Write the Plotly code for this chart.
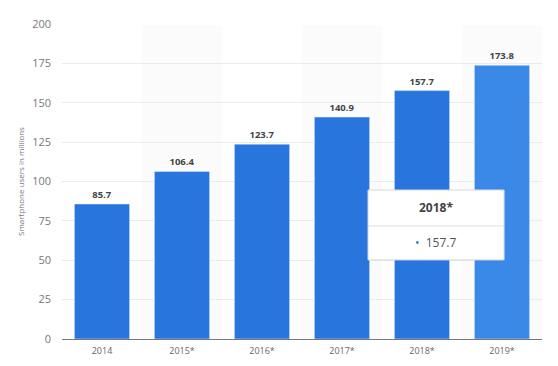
import plotly.graph_objects as go

years = ["2014", "2015*", "2016*", "2017*", "2018*", "2019*"]
users = [85.7, 106.4, 123.7, 140.9, 157.7, 173.8]
bar_colors = ["#2876dd", "#2876dd", "#2876dd", "#2876dd", "#2876dd", "#3a89e9"]
y_ticks = [0, 25, 50, 75, 100, 125, 150, 175, 200]
tooltip_title = "2018*"
tooltip_value = 157.7

fig = go.Figure()
fig.add_trace(go.Bar(
    x=years, y=users, marker_color=bar_colors, width=0.69,
    text=[f"{v:.1f}" for v in users], textposition="outside",
    textfont=dict(family="Open Sans", size=9.5, color="#444"),
    texttemplate="<b>%{text}</b>", cliponaxis=False,
))

shapes = []
for i in (1, 3, 5):
    shapes.append(dict(type="rect", xref="x", yref="paper", x0=i - 0.5, x1=i + 0.5,
                       y0=0, y1=0.995, fillcolor="#fbfbfb", line_width=0, layer="below"))
# tooltip box
shapes.append(dict(type="rect", xref="paper", yref="paper", x0=0.6375, x1=0.921,
                   y0=0.251, y1=0.473, fillcolor="white", line=dict(color="#d8d8d8", width=1),
                   layer="above"))
shapes.append(dict(type="line", xref="paper", yref="paper", x0=0.6375, x1=0.921,
                   y0=0.359, y1=0.359, line=dict(color="#dddddd", width=1), layer="above"))

annotations = [
    dict(xref="paper", yref="paper", x=0.779, y=0.416, text=f"<b>{tooltip_title}</b>",
         xanchor="center", yanchor="middle",
         showarrow=False, font=dict(family="Open Sans", size=12, color="#444")),
    dict(xref="paper", yref="paper", x=0.779, y=0.305,
         text=f"<span style='color:#2876dd'>•</span>  {tooltip_value}",
         xanchor="center", yanchor="middle",
         showarrow=False, font=dict(family="Open Sans", size=12, color="#555")),
]

fig.update_layout(
    width=550, height=358,
    margin=dict(l=54, r=16, t=16, b=27, autoexpand=False),
    paper_bgcolor="white", plot_bgcolor="white",
    showlegend=False,
    shapes=shapes, annotations=annotations,
    font=dict(family="Open Sans", color="#666"),
    xaxis=dict(tickfont=dict(size=9, color="#666"), showline=True, linecolor="#777",
               linewidth=1, ticks="", showgrid=False, ticklabelstandoff=3,
               automargin=False),
    yaxis=dict(range=[0, 200], tickvals=y_ticks, tickfont=dict(size=11, color="#777"),
               gridcolor="#ebebeb", zeroline=False, showline=False, ticks="",
               ticklabelstandoff=10, automargin=False,
               title=dict(text="Smartphone users in millions", font=dict(size=8, color="#777"),
                          standoff=6)),
)

fig.write_html("out.html")
